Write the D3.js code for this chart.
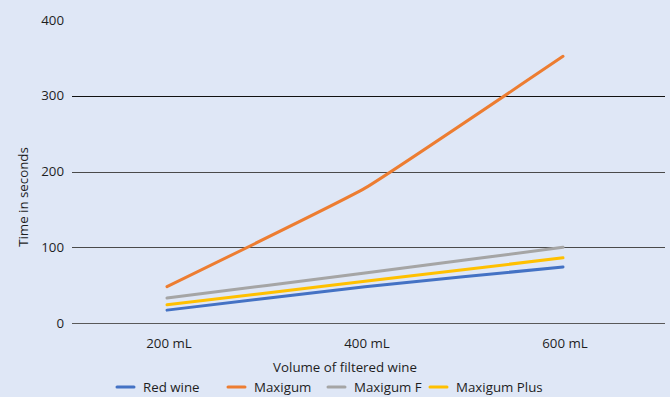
<!DOCTYPE html>
<html><head><meta charset="utf-8">
<script src="https://cdn.jsdelivr.net/npm/d3@7"></script>
<style>
body{margin:0;background:#dfe7f6;}
svg{display:block;font-family:"Open Sans",sans-serif;}
</style></head>
<body><svg id="c" width="670" height="397"></svg>
<script>
const categories = ["200 mL","400 mL","600 mL"];
const seriesNames = ["Red wine","Maxigum","Maxigum F","Maxigum Plus"];
const redWine = [17, 48, 74];
const maxigum = [48, 178, 352];
const maxigumF = [33, 66, 100];
const maxigumPlus = [24, 55, 86];
const yTicks = [0,100,200,300,400];
const colors = ["#4472c4","#ed7d31","#a5a5a5","#ffc000"];
const seriesValues = [redWine, maxigum, maxigumF, maxigumPlus];
const fs = 13.3;

const svg = d3.select("#c");
svg.append("rect").attr("width",670).attr("height",397).attr("fill","#dfe7f6");

const x = d3.scaleBand().domain(categories).range([68,662]);
const y = d3.scaleLinear().domain([0,400]).range([323,20]);

// gridlines
svg.append("g").selectAll("line").data(yTicks.filter(t=>t>0 && t<400)).join("line")
  .attr("x1",72).attr("x2",665)
  .attr("y1",d=>Math.round(y(d))+0.5).attr("y2",d=>Math.round(y(d))+0.5)
  .attr("stroke",d=>d===300?"#111":"#4a4a4a").attr("stroke-width",1);
svg.append("line").attr("x1",72).attr("x2",665)
  .attr("y1",Math.round(y(0))+0.5).attr("y2",Math.round(y(0))+0.5)
  .attr("stroke","#595959").attr("stroke-width",1.2);

// y tick labels
svg.append("g").selectAll("text").data(yTicks).join("text")
  .attr("x",64).attr("y",d=>y(d)).attr("dy","0.35em")
  .attr("text-anchor","end").attr("font-size",fs).attr("fill","#1e1e1e")
  .text(d=>d);

// x tick labels
svg.append("g").selectAll("text").data(categories).join("text")
  .attr("x",d=>x(d)+x.bandwidth()/2+2).attr("y",343).attr("dy","0.35em")
  .attr("text-anchor","middle").attr("font-size",fs).attr("fill","#1e1e1e")
  .text(d=>d);

// axis titles
svg.append("text").attr("x",345).attr("y",367).attr("dy","0.35em")
  .attr("text-anchor","middle").attr("font-size",fs).attr("fill","#1e1e1e")
  .text("Volume of filtered wine");
svg.append("text").attr("transform","translate(23,197) rotate(-90)").attr("dy","0.35em")
  .attr("text-anchor","middle").attr("font-size",fs).attr("fill","#1e1e1e")
  .text("Time in seconds");

// lines
const line = d3.line()
  .x((d,i)=>x(categories[i])+x.bandwidth()/2)
  .y(d=>y(d))
  .curve(d3.curveCardinal.tension(0.7));
svg.append("g").selectAll("path").data(seriesValues).join("path")
  .attr("d",d=>line(d)).attr("fill","none")
  .attr("stroke",(d,i)=>colors[i]).attr("stroke-width",3).attr("stroke-linecap","round");

// legend
const legX = [117,228,328,430];
const lg = svg.append("g").selectAll("g").data(seriesNames).join("g")
  .attr("transform",(d,i)=>`translate(${legX[i]},387)`);
lg.append("line").attr("x1",0).attr("x2",17).attr("y1",0).attr("y2",0)
  .attr("stroke",(d,i)=>colors[i]).attr("stroke-width",3).attr("stroke-linecap","round");
lg.append("text").attr("x",26).attr("y",0).attr("dy","0.35em")
  .attr("font-size",fs).attr("fill","#1e1e1e").text(d=>d);
</script></body></html>
